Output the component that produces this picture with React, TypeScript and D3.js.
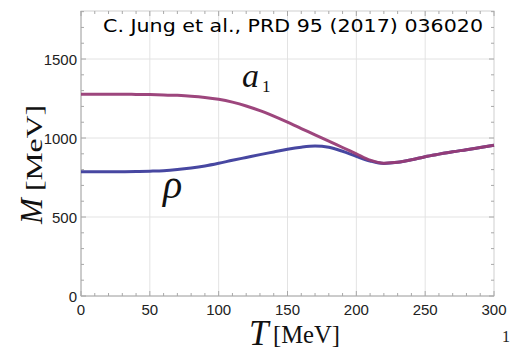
import React, { useRef, useEffect } from 'react';
import * as d3 from 'd3';

// Temperature grid (MeV) and masses (MeV)
const temps: number[] = [0, 10, 20, 30, 40, 50, 60, 70, 80, 90, 100, 110, 120, 130, 140, 150,
  160, 170, 180, 190, 200, 210, 220, 230, 240, 250, 260, 270, 280, 290, 300];
const a1Mass: number[] = [1277, 1277, 1277, 1277, 1276, 1275, 1273, 1270, 1265, 1257, 1245, 1227, 1203,
  1173, 1138, 1100, 1060, 1020, 980, 940, 900, 860, 841, 846, 862, 882, 898, 913, 926, 940, 954];
const rhoMass: number[] = [787, 787, 787, 787, 788, 790, 793, 800, 810, 823, 840, 859, 877,
  895, 912, 929, 942, 949, 941, 916, 884, 855, 839, 846, 862, 882, 898, 913, 926, 940, 954];

const xTicks = [0, 50, 100, 150, 200, 250, 300];
const yTicks = [0, 500, 1000, 1500];

const App: React.FC = () => {
  const svgRef = useRef<SVGSVGElement | null>(null);

  const width = 511;
  const height = 353;
  const marginLeft = 81;
  const marginRight = 17;
  const marginTop = 11;
  const marginBottom = 57;

  useEffect(() => {
    if (!svgRef.current) return;
    const svg = d3.select(svgRef.current);
    svg.selectAll('*').remove();

    const x = d3.scaleLinear().domain([0, 300]).range([marginLeft, width - marginRight]);
    const y = d3.scaleLinear().domain([0, 1804]).range([height - marginBottom, marginTop]);

    const x0 = marginLeft, x1 = width - marginRight;
    const y0 = height - marginBottom, y1 = marginTop;

    // grid
    svg.append('g').selectAll('line').data(xTicks.slice(1, -1)).join('line')
      .attr('x1', d => x(d)).attr('x2', d => x(d)).attr('y1', y0).attr('y2', y1)
      .attr('stroke', '#e3e3e3').attr('stroke-width', 1);
    svg.append('g').selectAll('line').data(yTicks.slice(1)).join('line')
      .attr('x1', x0).attr('x2', x1).attr('y1', d => y(d)).attr('y2', d => y(d))
      .attr('stroke', '#e3e3e3').attr('stroke-width', 1);

    // frame
    svg.append('rect').attr('x', x0).attr('y', y1).attr('width', x1 - x0).attr('height', y0 - y1)
      .attr('fill', 'none').attr('stroke', '#cfcfcf').attr('stroke-width', 1);
    svg.append('line').attr('x1', x0).attr('x2', x0).attr('y1', y0).attr('y2', y1)
      .attr('stroke', '#b0b0b0');
    svg.append('line').attr('x1', x0).attr('x2', x1).attr('y1', y0).attr('y2', y0)
      .attr('stroke', '#b0b0b0');

    // ticks on all four sides, pointing inward
    const xMinor = d3.range(0, 301, 10);
    const yMinor = d3.range(0, 1801, 100);
    const tickCol = '#a8a8a8';
    xMinor.forEach(v => {
      const len = v % 50 === 0 ? 5 : 3;
      svg.append('line').attr('x1', x(v)).attr('x2', x(v)).attr('y1', y0).attr('y2', y0 - len).attr('stroke', tickCol);
      svg.append('line').attr('x1', x(v)).attr('x2', x(v)).attr('y1', y1).attr('y2', y1 + len).attr('stroke', tickCol);
    });
    yMinor.forEach(v => {
      const len = v % 500 === 0 ? 5 : 3;
      svg.append('line').attr('x1', x0).attr('x2', x0 + len).attr('y1', y(v)).attr('y2', y(v)).attr('stroke', tickCol);
      svg.append('line').attr('x1', x1).attr('x2', x1 - len).attr('y1', y(v)).attr('y2', y(v)).attr('stroke', tickCol);
    });

    // tick labels
    const sans = 'Liberation Sans, Arial, sans-serif';
    svg.append('g').selectAll('text').data(xTicks).join('text')
      .attr('x', d => x(d)).attr('y', y0 + 19)
      .attr('text-anchor', 'middle')
      .attr('font-family', sans).attr('font-size', 15)
      .attr('fill', '#222').text(d => d);
    svg.append('g').selectAll('text').data(yTicks).join('text')
      .attr('x', x0 - 4).attr('y', d => y(d) + 6)
      .attr('text-anchor', 'end')
      .attr('font-family', sans).attr('font-size', 15)
      .attr('fill', '#222').text(d => d);

    // curves
    const line = d3.line<number>()
      .x((_, i) => x(temps[i]))
      .y(d => y(d))
      .curve(d3.curveMonotoneX);
    svg.append('path').datum(rhoMass).attr('d', line)
      .attr('fill', 'none').attr('stroke', '#3d3d9c').attr('stroke-width', 3).attr('stroke-opacity', 0.95);
    svg.append('path').datum(a1Mass).attr('d', line)
      .attr('fill', 'none').attr('stroke', '#983c76').attr('stroke-width', 3).attr('stroke-opacity', 0.95);

    const serif = 'Liberation Serif, Times New Roman, serif';

    // curve labels
    svg.append('text').attr('x', 242).attr('y', 87).attr('font-family', serif)
      .attr('font-style', 'italic').attr('font-size', 34).attr('fill', '#111').text('a');
    svg.append('text').attr('x', 262).attr('y', 92).attr('font-family', serif)
      .attr('font-size', 17).attr('fill', '#111').text('1');
    svg.append('text').attr('x', 163).attr('y', 198).attr('font-family', serif)
      .attr('font-style', 'italic').attr('font-size', 40).attr('fill', '#111').text('ρ');

    // axis titles
    svg.append('text').attr('x', 249).attr('y', 345).attr('font-family', serif)
      .attr('font-style', 'italic').attr('font-size', 35).attr('fill', '#111').text('T');
    svg.append('text').attr('x', 273).attr('y', 343).attr('font-family', serif)
      .attr('font-size', 26).attr('textLength', 67).attr('lengthAdjust', 'spacingAndGlyphs')
      .attr('fill', '#111').text('[MeV]');

    const yt = svg.append('g').attr('transform', 'translate(42,0) rotate(-90)');
    yt.append('text').attr('x', -224).attr('y', 0).attr('font-family', serif)
      .attr('font-style', 'italic').attr('font-size', 31).attr('fill', '#111').text('M');
    yt.append('text').attr('x', -191).attr('y', 0).attr('font-family', serif)
      .attr('font-size', 24).attr('textLength', 86).attr('lengthAdjust', 'spacingAndGlyphs')
      .attr('fill', '#111').text('[MeV]');

    // citation
    svg.append('text').attr('x', 103).attr('y', 32)
      .attr('font-family', 'DejaVu Sans, Verdana, sans-serif').attr('font-size', 18)
      .attr('textLength', 380).attr('lengthAdjust', 'spacingAndGlyphs')
      .attr('fill', '#000').text('C. Jung et al., PRD 95 (2017) 036020');

    // page number
    svg.append('text').attr('x', 502).attr('y', 342).attr('font-family', serif)
      .attr('font-size', 16).attr('fill', '#222').text('1');
  }, []);

  return (
    <div style={{ position: 'fixed', left: 0, top: 0, width, height, background: '#fff' }}>
      <svg ref={svgRef} width={width} height={height} />
    </div>
  );
};

export default App;
